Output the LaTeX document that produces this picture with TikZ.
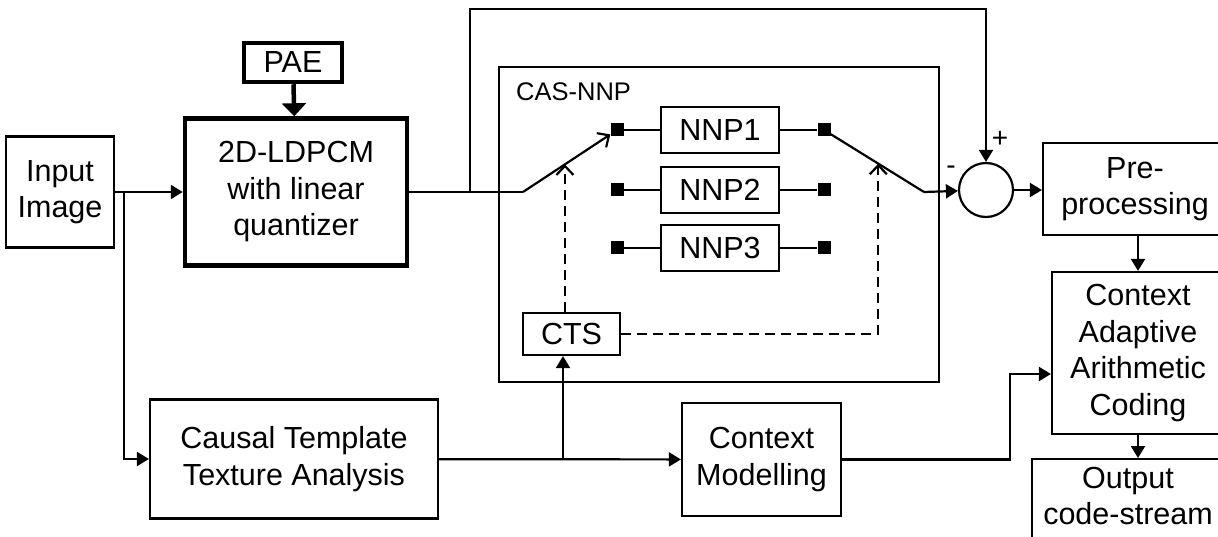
\documentclass[tikz,border=0pt]{standalone}
\usepackage{fontspec}
\setmainfont{Liberation Sans}
\usetikzlibrary{arrows.meta}

\begin{document}
\begin{tikzpicture}
[x=1pt,y=-1pt,
  lineDecorate/.style={-,line width=2.2pt},
  arrowDecorate/.style={-{Triangle[length=12pt,width=14pt]},line width=2.2pt},
  switchDecorate/.style={-{Straight Barb[length=9pt,width=17pt]},line width=2.2pt},
  dashDecorate/.style={switchDecorate,dash pattern=on 10pt off 6pt},
  textDecorate/.style={align=center,inner sep=0pt,font=\fontsize{30.5}{36.5}\selectfont},
  blockDecorate/.style={textDecorate,shape=rectangle,draw,line width=2.2pt},
  boldDecorate/.style={blockDecorate,line width=4.5pt},
  contactDecorate/.style={shape=rectangle,fill,minimum size=13pt,inner sep=0pt},
  signDecorate/.style={inner sep=0pt,font=\fontsize{28}{28}\selectfont}]
\clip (0,0) rectangle (1218,537);
%% blocks
\node (input) at (60,192) [blockDecorate,minimum width=108pt,minimum height=111pt] {Input\\Image};
\node (ldpcm) at (296,192) [boldDecorate,minimum width=222pt,minimum height=147pt] {2D-LDPCM\\with linear\\quantizer};
\node (pae) at (293,62.5) [boldDecorate,minimum width=98pt,minimum height=39pt] {PAE};
\node (casnnp) at (719,224.5) [blockDecorate,minimum width=440pt,minimum height=315pt] {};
\node (casLabel) at (516,92) [anchor=west,inner sep=0pt,font=\fontsize{25.5}{25.5}\selectfont] {CAS-NNP};
\foreach \nodename/\y/\txt in {nnp1/130/NNP1, nnp2/190/NNP2, nnp3/248/NNP3}
{
  \node (\nodename) at (720,\y) [blockDecorate,minimum width=118pt,minimum height=46pt] {\txt};
}
\node (cts) at (571.5,334) [blockDecorate,minimum width=97pt,minimum height=42pt] {CTS};
\node (causal) at (294,459) [blockDecorate,minimum width=288pt,minimum height=119pt] {Causal Template\\Texture Analysis};
\node (cm) at (761.5,459.5) [blockDecorate,minimum width=159pt,minimum height=113pt] {Context\\Modelling};
\node (sum) at (986,190) [shape=circle,draw,line width=2.2pt,minimum size=54pt,inner sep=0pt] {};
\node (plus) at (1000,139) [signDecorate] {+};
\node (minus) at (951,170) [signDecorate] {-};
\node (pre) at (1135,189) [blockDecorate,minimum width=184pt,minimum height=92pt] {Pre-\\processing};
\node (caac) at (1138,353) [blockDecorate,minimum width=172pt,minimum height=162pt] {Context\\Adaptive\\Arithmetic\\Coding};
\node (out) at (1128,458) [blockDecorate,anchor=north,minimum width=192pt,minimum height=120pt] {};
\node (outText) at (1128,496) [textDecorate] {Output\\code-stream};
%% switch contacts
\foreach \nodename/\x/\y in {
  c1L/617/130, c2L/617/190, c3L/617/248, c1R/824/130, c2R/824/190, c3R/824/248}
{
  \node (\nodename) at (\x,\y) [contactDecorate] {};
}
\coordinate (brIn) at (124,192);
\coordinate (fbStart) at (470,192);
\coordinate (fbTop) at (986,9);
\coordinate (swIn) at (523,192);
\coordinate (swOut) at (924,192);
\coordinate (brCts) at (563,460);
\coordinate (cmTurn) at (1010,374);
\path (swIn) -- (c1L) coordinate[pos=0.48] (dl);
\path (c1R) -- (swOut) coordinate[pos=0.51] (dr);
%% connections
\path
\foreach \startnode/\endnode in {
  c1L/nnp1, nnp1/c1R, c2L/nnp2, nnp2/c2R, c3L/nnp3, nnp3/c3R}
{
  (\startnode) edge[lineDecorate] (\endnode)
};
\draw[arrowDecorate] (input) -- (ldpcm);
\draw[-{Triangle[length=13pt,width=24pt]},line width=4.5pt] (pae) -- (ldpcm);
\draw[arrowDecorate] (brIn) |- (causal);
\draw[lineDecorate] (ldpcm) -- (swIn);
\draw[switchDecorate] (swIn) -- (c1L);
\draw[lineDecorate] (c1R) -- (swOut);
\draw[arrowDecorate] (swOut) -- (sum);
\draw[arrowDecorate] (fbStart) |- (fbTop) -- (sum);
\draw[dashDecorate] (dl |- cts.north) -- (dl);
\draw[dashDecorate] (cts) -| (dr);
\draw[arrowDecorate] (causal) -- (cm);
\draw[arrowDecorate] (brCts) -- (brCts |- cts.south);
\draw[arrowDecorate] (cm.east) -| (cmTurn) -- (cmTurn -| caac.west);
\draw[arrowDecorate] (sum.east) -- (sum.east -| pre.west);
\draw[arrowDecorate] (pre.south -| caac.north) -- (caac.north);
\draw[arrowDecorate] (caac.south) -- (caac.south |- out.north);
\end{tikzpicture}
\end{document}
